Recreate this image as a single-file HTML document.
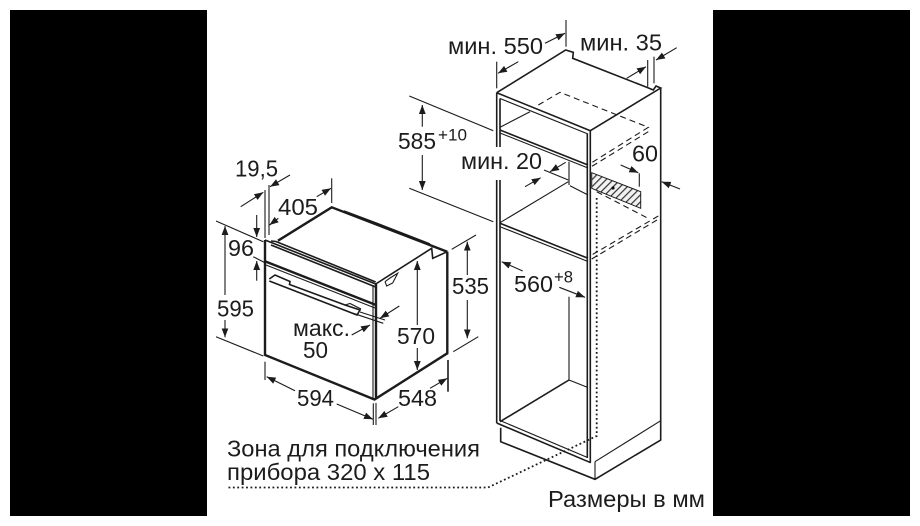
<!DOCTYPE html>
<html><head><meta charset="utf-8"><style>
html,body{margin:0;padding:0;background:#fff}
svg{display:block}
text{font-family:"Liberation Sans",sans-serif;font-size:23px;fill:#1c1c1c}
.s{font-size:16.5px}
line,polyline,path.l{stroke:#1a1a1a;fill:none;stroke-width:1.1}
.t{stroke-width:1.6}
.b{stroke-width:2.4}
.a{marker-end:url(#ah)}
.ds{stroke-dasharray:6 4}
.dt{stroke-width:1.8;stroke-dasharray:1.8 2.6}
</style></head><body>
<svg width="920" height="526" viewBox="0 0 920 526">
<defs>
<marker id="ah" markerUnits="userSpaceOnUse" markerWidth="12" markerHeight="8" refX="9" refY="4" orient="auto"><path d="M0 .6L9 4L0 7.4z" fill="#1a1a1a"/></marker>
<pattern id="h" width="5" height="5" patternUnits="userSpaceOnUse" patternTransform="rotate(45)"><rect width="5" height="5" fill="#f2f2f2"/><rect width="1.2" height="5" fill="#333"/></pattern>
<filter id="f" x="0" y="0" width="100%" height="100%"><feGaussianBlur stdDeviation="0.35"/></filter>
</defs>
<rect x="10" y="10" width="197" height="506" fill="#000"/>
<rect x="713" y="10" width="197" height="506" fill="#000"/>
<g filter="url(#f)">
<!-- oven -->
<polyline class="b" points="265,240 265,355 374.5,399.5 447.3,353.3 447.3,251.7"/>
<polyline class="b" points="278,240.7 331.7,207.3 447.3,251.7"/>
<polyline class="t" points="344,211 376,223 430,244"/>
<polyline class="t" points="265,240 375.7,284"/>
<polyline class="t" points="271,241 276,241.5 375.7,282"/>
<line class="t" x1="271" y1="245" x2="375.7" y2="287"/>
<line class="b" x1="265.5" y1="261.5" x2="376" y2="305"/>
<line x1="266" y1="265" x2="375" y2="308"/>
<polyline class="t" points="375.7,284 431.7,248.3 432.7,258.3 447.3,251.7"/>
<line class="b" x1="376" y1="284" x2="376" y2="399"/>
<line x1="373" y1="285" x2="373" y2="399"/>
<polyline class="t" points="269.3,279 275,275 290,281.5 289.5,284.5 345,305 360,310 357,315 269.3,281"/>
<polyline points="345,305 350,303.5 361,309"/>
<polyline points="385,281.7 386.7,286 392.7,283 397.7,273.3 390,278 385,281.7"/>
<!-- oven dims -->
<line x1="265" y1="190" x2="265" y2="238"/>
<line x1="269" y1="185" x2="269" y2="235"/>
<line class="a" x1="240.7" y1="206.7" x2="263.3" y2="192.3"/>
<line class="a" x1="290" y1="175" x2="270" y2="186.7"/>
<line x1="331.7" y1="178.3" x2="331.7" y2="203"/>
<line class="a" x1="316.7" y1="196.7" x2="331" y2="188.3"/>
<line class="a" x1="278.3" y1="218.3" x2="269.5" y2="225"/>
<line x1="216" y1="221" x2="263.3" y2="241.7"/>
<line class="a" x1="256.7" y1="215" x2="256.7" y2="237"/>
<line x1="253.3" y1="256.7" x2="265" y2="262.7"/>
<line class="a" x1="256.7" y1="280.7" x2="256.7" y2="261"/>
<line class="a" x1="225" y1="295" x2="225" y2="226"/>
<line class="a" x1="225" y1="320" x2="225" y2="337.3"/>
<line x1="216" y1="336.7" x2="263.3" y2="356"/>
<line x1="265" y1="361.7" x2="265" y2="380"/>
<line class="a" x1="295" y1="390.7" x2="266.7" y2="376.7"/>
<line class="a" x1="336.7" y1="404" x2="373" y2="419.3"/>
<line x1="373.3" y1="403.3" x2="373.3" y2="425"/>
<line x1="376" y1="403" x2="376" y2="425"/>
<line class="a" x1="398.3" y1="406.7" x2="378.3" y2="418.3"/>
<line class="a" x1="430" y1="388.3" x2="447.3" y2="378.3"/>
<line class="t" x1="448" y1="360" x2="448" y2="391.7"/>
<line class="a" x1="417.3" y1="325" x2="417.3" y2="261"/>
<line class="a" x1="417.3" y1="348" x2="417.3" y2="370"/>
<line x1="451.7" y1="249.3" x2="476" y2="235"/>
<line x1="453.3" y1="351.7" x2="478.3" y2="336.7"/>
<line class="a" x1="467.3" y1="275" x2="467.3" y2="241.7"/>
<line class="a" x1="467.3" y1="300" x2="467.3" y2="338.3"/>
<line class="a" x1="351.7" y1="335" x2="370" y2="325"/>
<line x1="353.3" y1="313.3" x2="383.3" y2="323.3"/>
<line x1="360" y1="312" x2="385" y2="320"/>
<line class="a" x1="399.3" y1="306" x2="380" y2="318.3"/>
<!-- cabinet -->
<polyline class="t" points="496.7,92.7 565.7,50 573.3,52.3 572.7,58.3 646.7,87.3 653.3,90 656,86 660.7,88 590.3,130.7"/>
<polyline class="t" points="660.7,88 660.7,440 595,479.3 500.7,441.7 500.7,427.7"/>
<line x1="595" y1="461.7" x2="660.7" y2="420.7"/>
<line x1="595" y1="461.7" x2="595" y2="479.3"/>
<line class="t" x1="496.7" y1="92.7" x2="590.3" y2="130.7"/>
<line x1="500" y1="98.5" x2="588" y2="134"/>
<line class="t" x1="496.7" y1="92.7" x2="496.7" y2="147"/>
<line class="t" x1="500" y1="98.5" x2="500" y2="147"/>
<line class="t" x1="496.7" y1="180" x2="496.7" y2="423"/>
<line class="t" x1="500" y1="180" x2="500" y2="421"/>
<line class="t" x1="590.3" y1="130.7" x2="590.3" y2="462.7"/>
<line class="t" x1="587.3" y1="134" x2="587.3" y2="458"/>
<polyline class="t" points="496.7,423 590.7,462.7"/>
<polyline points="500,420.5 587.5,457.5"/>
<line class="t" x1="500" y1="130" x2="588" y2="165"/>
<line x1="500" y1="133" x2="588" y2="168"/>
<line x1="500" y1="127.3" x2="530" y2="111.7"/>
<line class="t" x1="500" y1="223.3" x2="588" y2="258.3"/>
<line x1="500" y1="226.7" x2="588" y2="261.5"/>
<line x1="500" y1="222.7" x2="568.3" y2="181.7"/>
<line x1="569" y1="161.7" x2="569" y2="185"/>
<line x1="544" y1="170" x2="568.3" y2="180"/>
<line x1="570" y1="185.7" x2="588" y2="195"/>
<polyline points="569,296.7 569,380 587.3,387.3"/>
<line class="t" x1="500" y1="421.7" x2="569" y2="380"/>
<polyline class="ds" points="538.3,105 560,92.3 648.3,127.3 591.7,162.7"/>
<line class="ds" x1="648.3" y1="131.7" x2="591.7" y2="166.5"/>
<line class="ds" x1="596.7" y1="191.7" x2="650" y2="219.3"/>
<line class="ds" x1="658.3" y1="216" x2="591.7" y2="255"/>
<line class="ds" x1="657" y1="220" x2="591.7" y2="259"/>
<polygon points="591.7,172.7 640.7,191.7 640.7,208.3 591.7,188.3" fill="url(#h)" stroke="#1a1a1a"/>
<circle cx="613" cy="188" r="1.6" fill="#111"/>
<polyline class="dt" points="596.7,198 596.7,436 488,487.5 228,487.5"/>
<!-- cabinet dims -->
<line x1="566" y1="20" x2="566" y2="46.7"/>
<line class="a" x1="545" y1="43.3" x2="565" y2="33.3"/>
<line x1="496.7" y1="61.7" x2="496.7" y2="88.3"/>
<line class="a" x1="518.3" y1="61.7" x2="498" y2="73.3"/>
<line x1="647.7" y1="60" x2="647.7" y2="86.7"/>
<line x1="654" y1="56.7" x2="654" y2="83.3"/>
<line class="a" x1="626.7" y1="78.3" x2="646" y2="66.7"/>
<line class="a" x1="676.7" y1="47.7" x2="656" y2="60"/>
<line x1="409.3" y1="96" x2="493.3" y2="130.7"/>
<line x1="409.3" y1="188.3" x2="493.3" y2="221.7"/>
<line class="a" x1="422.3" y1="126.7" x2="422.3" y2="105"/>
<line class="a" x1="422.3" y1="155" x2="422.3" y2="190"/>
<line class="a" x1="525" y1="186.7" x2="540.7" y2="177.7"/>
<line class="a" x1="565.7" y1="162.3" x2="550" y2="171.7"/>
<line x1="639.3" y1="173.3" x2="639.3" y2="186.7"/>
<line class="a" x1="620.7" y1="165" x2="638.3" y2="172.7"/>
<line class="a" x1="680" y1="189" x2="661.7" y2="181.7"/>
<line class="a" x1="522.7" y1="271" x2="501.7" y2="261.7"/>
<line class="a" x1="559.3" y1="287.3" x2="585" y2="297.3"/>
<!-- labels -->
<text lengthAdjust="spacingAndGlyphs" x="448" y="54" textLength="95">мин. 550</text>
<text lengthAdjust="spacingAndGlyphs" x="580" y="50.7" textLength="82">мин. 35</text>
<text lengthAdjust="spacingAndGlyphs" x="398" y="149" textLength="38">585</text>
<text lengthAdjust="spacingAndGlyphs" class="s" x="438" y="140.7" textLength="29">+10</text>
<text lengthAdjust="spacingAndGlyphs" x="461" y="169" textLength="81">мин. 20</text>
<text lengthAdjust="spacingAndGlyphs" x="632" y="161.7" textLength="26">60</text>
<text lengthAdjust="spacingAndGlyphs" x="235" y="176.7" textLength="43">19,5</text>
<text lengthAdjust="spacingAndGlyphs" x="278" y="215" textLength="40">405</text>
<text lengthAdjust="spacingAndGlyphs" x="228" y="256" textLength="26">96</text>
<text lengthAdjust="spacingAndGlyphs" x="217" y="316.7" textLength="37">595</text>
<text lengthAdjust="spacingAndGlyphs" x="452" y="294" textLength="37">535</text>
<text lengthAdjust="spacingAndGlyphs" x="397" y="344" textLength="38">570</text>
<text lengthAdjust="spacingAndGlyphs" x="293" y="336" textLength="57">макс.</text>
<text lengthAdjust="spacingAndGlyphs" x="303" y="358" textLength="25">50</text>
<text lengthAdjust="spacingAndGlyphs" x="297" y="406" textLength="37">594</text>
<text lengthAdjust="spacingAndGlyphs" x="398" y="406" textLength="39">548</text>
<text lengthAdjust="spacingAndGlyphs" x="514" y="292" textLength="39">560</text>
<text lengthAdjust="spacingAndGlyphs" class="s" x="554" y="282.7" textLength="19">+8</text>
<text lengthAdjust="spacingAndGlyphs" x="227" y="456.7" textLength="253">Зона для подключения</text>
<text lengthAdjust="spacingAndGlyphs" x="227" y="480" textLength="203">прибора 320 x 115</text>
<text lengthAdjust="spacingAndGlyphs" x="548" y="507" textLength="157">Размеры в мм</text>
</g>
</svg>
</body></html>
